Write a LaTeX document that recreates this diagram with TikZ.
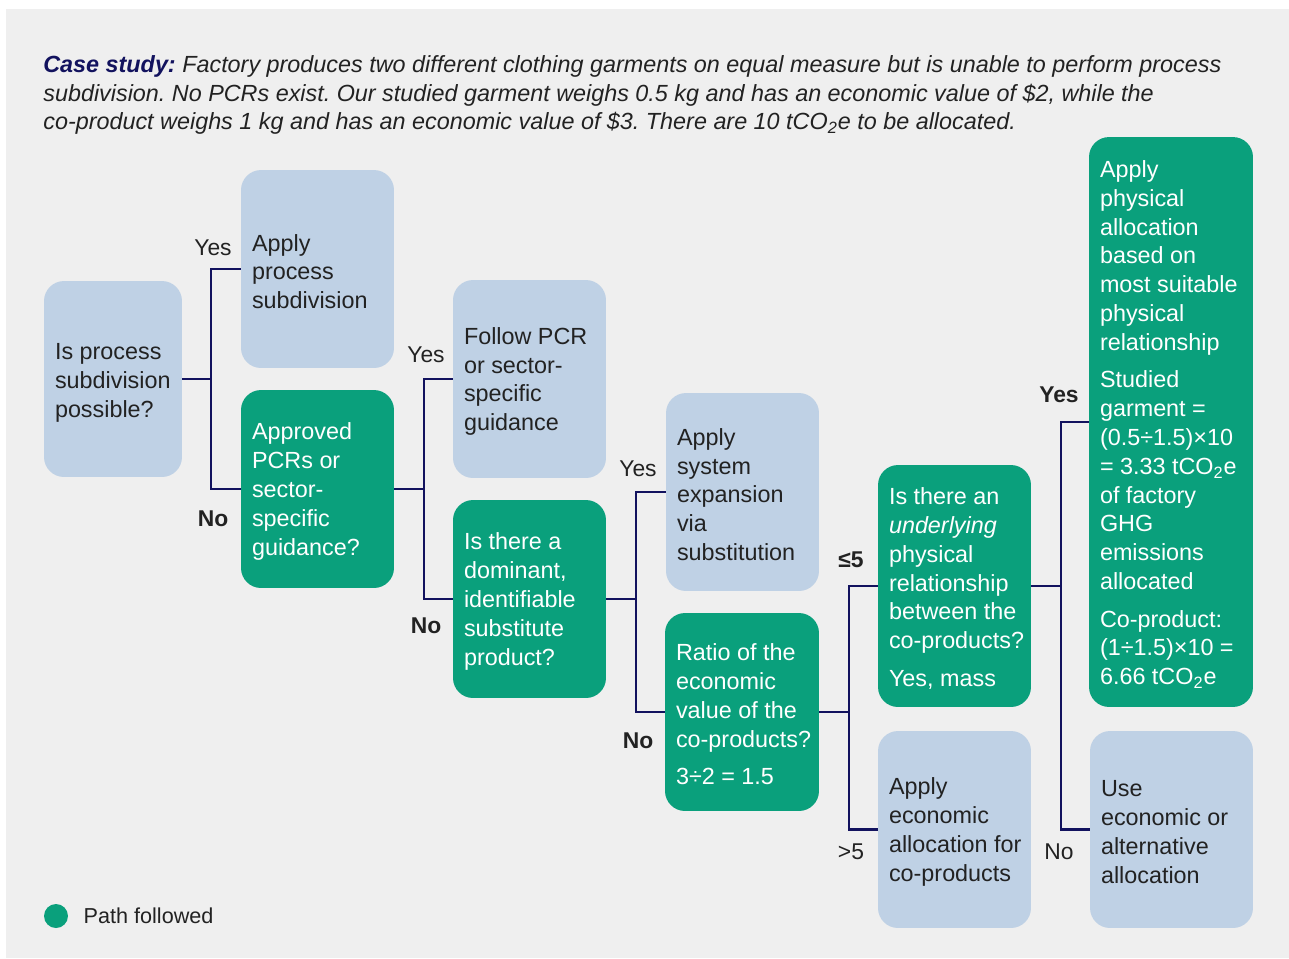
\documentclass[tikz,border=0pt]{standalone}
\usepackage{fontspec}
\setmainfont{Liberation Sans}
\usetikzlibrary{positioning}
\frenchspacing

\definecolor{pathgreen}{RGB}{10,160,124}
\definecolor{optblue}{RGB}{191,209,229}
\definecolor{panelgray}{RGB}{239,239,239}
\definecolor{linknavy}{RGB}{18,18,94}
\definecolor{inkgray}{RGB}{34,34,34}

\tikzset{
  box/.style={rounded corners=0.4cm, minimum width=3.06cm, minimum height=3.96cm, inner sep=0pt},
  bluebox/.style={box, fill=optblue},
  greenbox/.style={box, fill=pathgreen},
  txt/.style={align=left, inner xsep=0.22cm, inner ysep=0pt, yshift=-0.05cm, font=\fontsize{13.3}{16.4}\selectfont},
  bluetxt/.style={txt, text=inkgray},
  greentxt/.style={txt, text=white},
  link/.style={draw=linknavy, line width=1.6pt},
  answer/.style={inner sep=0pt, text=inkgray, font=\fontsize{13}{15}\selectfont},
  answerbold/.style={answer, font=\fontsize{13}{15}\selectfont\bfseries},
}

\begin{document}
\begin{tikzpicture}[x=0.02cm, y=-0.02cm]
	\useasboundingbox (0,0) rectangle (1289,958);
	\fill[panelgray] (6,9) rectangle (1289,958);

	% case study text
	\node [anchor=west, align=left, inner sep=0pt, text=inkgray,
		font=\itshape\fontsize{13.3}{16.4}\selectfont] (title) at (43,95)
		{\textcolor{linknavy}{\bfseries Case study:} Factory produces two different clothing garments on equal measure but is unable to perform process\\
		subdivision. No PCRs exist. Our studied garment weighs 0.5 kg and has an economic value of \$2, while the\\
		co-product weighs 1 kg and has an economic value of \$3. There are 10 tCO\textsubscript{2}e to be allocated.};

	% boxes
	\draw (113,379) node [bluebox, minimum width=2.76cm, minimum height=3.92cm] (q1) {};
	\draw (317.5,269) node [bluebox] (a1) {};
	\draw (317.5,489) node [greenbox] (q2) {};
	\draw (529.5,379) node [bluebox] (a2) {};
	\draw (529.5,599) node [greenbox] (q3) {};
	\draw (742.5,492) node [bluebox] (a3) {};
	\draw (742,712) node [greenbox, minimum width=3.08cm] (q4) {};
	\draw (954.5,586) node [greenbox, minimum height=4.84cm] (q5) {};
	\draw (954.5,829.5) node [bluebox, minimum height=3.94cm] (a4) {};
	\draw (1171,422) node [greenbox, minimum width=3.28cm, minimum height=11.4cm] (a5) {};
	\draw (1171.5,829.5) node [bluebox, minimum width=3.26cm, minimum height=3.94cm] (a6) {};

	% box texts
	\node [bluetxt, right=0pt of q1.west, yshift=-0.03cm] (q1t) {Is process\\subdivision\\possible?};
	\node [bluetxt, right=0pt of a1.west] (a1t) {Apply\\process\\subdivision};
	\node [greentxt, right=0pt of q2.west] (q2t) {Approved\\PCRs or\\sector-\\specific\\guidance?};
	\node [bluetxt, right=0pt of a2.west] (a2t) {Follow PCR\\or sector-\\specific\\guidance};
	\node [greentxt, right=0pt of q3.west] (q3t) {Is there a\\dominant,\\identifiable\\substitute\\product?};
	\node [bluetxt, right=0pt of a3.west] (a3t) {Apply\\system\\expansion\\via\\substitution};
	\node [greentxt, right=0pt of q4.west] (q4t) {Ratio of the\\economic\\value of the\\co-products?\\[5pt]3÷2 = 1.5};
	\node [greentxt, right=0pt of q5.west] (q5t) {Is there an\\\textit{underlying}\\physical\\relationship\\between the\\co-products?\\[5pt]Yes, mass};
	\node [bluetxt, right=0pt of a4.west] (a4t) {Apply\\economic\\allocation for\\co-products};
	\node [greentxt, right=0pt of a5.west] (a5t) {Apply\\physical\\allocation\\based on\\most suitable\\physical\\relationship\\[5pt]Studied\\garment =\\(0.5÷1.5)×10\\= 3.33 tCO\textsubscript{2}e\\of factory\\GHG\\emissions\\allocated\\[5pt]Co-product:\\(1÷1.5)×10 =\\6.66 tCO\textsubscript{2}e};
	\node [bluetxt, right=0pt of a6.west] (a6t) {Use\\economic or\\alternative\\allocation};

	% connectors
	\coordinate (j1) at (211,379);
	\coordinate (j2) at (424,489);
	\coordinate (j3) at (636,599);
	\coordinate (j4) at (849,712);
	\coordinate (j5) at (1061,586);

	\draw [link] (q1) -- (j1) |- (a1);
	\draw [link] (j1) |- (q2);
	\draw [link] (q2) -- (j2) |- (a2);
	\draw [link] (j2) |- (q3);
	\draw [link] (q3) -- (j3) |- (a3);
	\draw [link] (j3) |- (q4);
	\draw [link] (q4) -- (j4) |- (q5);
	\draw [link] (j4) |- (a4);
	\draw [link] (q5) -- (j5) |- (a5);
	\draw [link] (j5) |- (a6);

	% answers
	\node [answer] (yes1) at (213,248) {Yes};
	\node [answerbold] (no1) at (213,519) {No};
	\node [answer] (yes2) at (426,355) {Yes};
	\node [answerbold] (no2) at (426,626) {No};
	\node [answer] (yes3) at (638,469) {Yes};
	\node [answerbold] (no3) at (638,741) {No};
	\node [answerbold] (le5) at (851,560) {≤5};
	\node [answer] (gt5) at (851,852) {>5};
	\node [answerbold] (yes5) at (1059,395) {Yes};
	\node [answer] (no5) at (1059,852) {No};

	% key
	\node [circle, fill=pathgreen, minimum size=0.48cm, inner sep=0pt] (key) at (56,916) {};
	\node [right=0.3cm of key, inner sep=0pt, text=inkgray, font=\fontsize{12.3}{15}\selectfont] (keytext) {Path followed};
\end{tikzpicture}
\end{document}
